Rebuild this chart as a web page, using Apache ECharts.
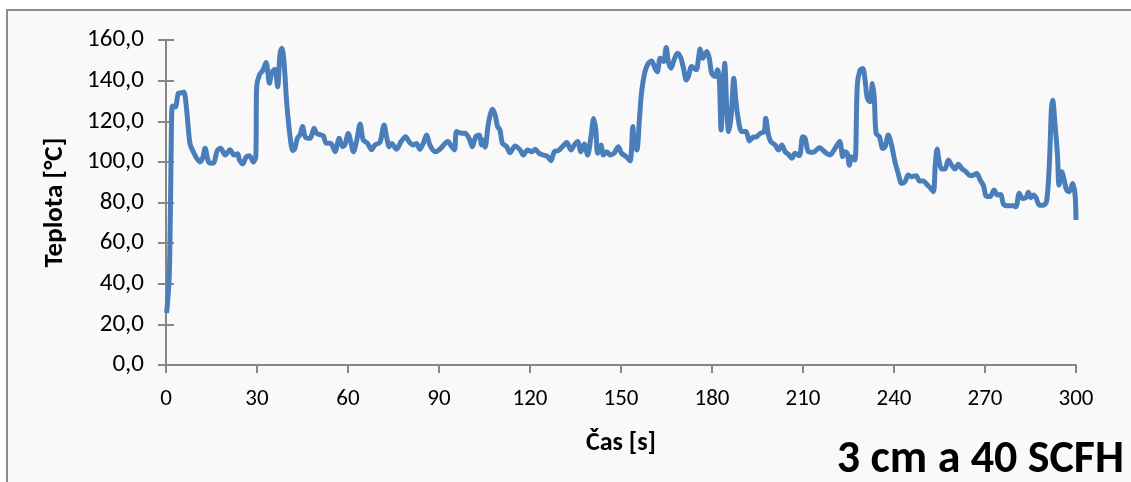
<!DOCTYPE html>
<html><head><meta charset="utf-8">
<script src="https://cdn.jsdelivr.net/npm/echarts@6/dist/echarts.min.js"></script>
<style>html,body{margin:0;padding:0;background:#fff}#c{width:1131px;height:482px}</style>
</head><body><div id="c"></div>
<script>
const casS = [0.2,1.1,1.9,2.2,3.1,4.1,5.2,5.9,6.8,7.9,9,10.1,11.2,12.1,12.9,14,15,15.9,16.9,18,19.5,21.1,22.4,23.6,24.2,25.3,26.4,27.5,28.8,29.6,29.9,30.8,31.9,33,34.1,34.8,35.9,36.8,37.6,38.2,38.9,39.8,40.9,41.8,42.5,43.3,44.2,45,46,47.5,48.8,49.7,51,51.9,52.8,54.3,55.7,57.1,58.2,59,60.1,60.9,61.8,62.9,64,65,66.4,67.8,68.9,70.5,71.9,72.7,73.6,74.4,76,77.5,79,80.1,81.5,82.6,83.7,84.8,85.9,87,88.7,90.3,91.8,92.9,94.2,95.1,95.8,97.3,98.6,99.9,101,102.1,103.2,104.1,104.7,105.2,106.3,107.6,108.5,109.3,110.1,110.9,112.3,113.4,115.1,116.7,117.8,119.2,120.6,121.7,123,124.4,125.8,126.9,128,129.3,130.7,132.1,133.5,134.6,135.7,136.8,137.9,139,140.1,141,141.7,142.3,143.4,144.2,145.3,146.4,147.7,149.1,150.2,151.7,153,153.9,154.4,155.2,156.1,156.8,157.9,159,160.1,161.2,162,162.9,164,164.9,165.6,166.5,167.5,168.6,169.7,170.6,171.5,172.2,173.3,174.8,175.5,176.1,177,178.3,179.1,179.9,181,181.8,182.4,183,183.5,184.2,184.9,185.5,186.3,187.2,187.9,188.7,189.8,191.2,192.3,193.4,194.7,196,197.2,197.7,198.6,199.4,200.8,201.9,203,204.1,205.2,206.3,207.4,208.8,209.9,210.7,211.8,213.4,215.4,217.3,218.9,220.6,222.1,223.1,223.8,224.6,225.3,226,227.1,227.9,228.8,229.7,230.4,231.2,232.1,232.9,233.5,234.1,235.2,236.3,237.1,238.1,239.2,240.3,241.4,242.5,243.6,244.7,245.8,247.3,248.4,249.7,251,252.1,253,253.6,254.2,254.9,255.7,256.8,257.9,259,260.1,261.2,262.3,263.7,265.1,266.2,267.3,268.4,269.5,270.3,271.7,273,274.1,275.2,276.1,277.7,279.3,280.2,281.3,282.4,283.5,284.3,285.1,285.9,286.8,287.9,289.2,290.3,291.2,291.9,292.3,293.1,293.9,294.4,295.3,296.1,296.9,297.8,298.9,299.7,300];
const teplota = [25.6,45,125.6,127.5,127,133.8,134,134.4,125.6,109,105,101.8,100,102,106.7,100,99.3,100,105.6,106.7,103.4,106,103.4,104,101,99,102.3,103,100,102.5,137,142.8,145,148.9,138.7,143.6,145.6,137,153.4,156,149.3,128.9,112.5,105.6,106.7,111.6,113.3,117.4,112,111.6,116.6,114,113.3,112.8,109.2,109.2,105,111.6,107.5,108.4,114,110,105,110.8,118.7,110.8,109.2,106,108.4,109.5,118.2,112.5,107.5,109.1,106.2,110,112.4,110,108.3,109.1,106.2,109.1,113.2,108.3,105,106.2,108.8,110,107.5,105.9,114.9,114.1,114.1,111.6,107.5,112.4,113.2,108.3,110.8,107.2,119,125.9,123.1,117.4,115.7,109.1,107.5,104.5,107.8,105.9,103.4,105.9,105,106.2,104.2,103.4,102.6,100.6,105,105.5,107.5,109.5,105.9,108.3,110,105,108.8,103.4,112.4,121.4,115.7,104.2,108.3,103.4,105,103.4,104.2,107.5,104.2,102.6,100.5,117.4,108.3,105.9,121.5,134.6,144.4,148.5,149.7,146.1,144.4,151,149.4,156.3,149.4,146.1,150.2,153.5,151.3,146.1,140.3,142,146.9,145.3,150.2,155.6,151,154.3,151,143.6,142,145.3,141.2,115.7,129.7,148.5,124.8,114.9,122.3,141.2,129.7,120.6,114.9,114.9,110.3,112,112.4,114.1,114.9,121.5,113.3,110,108.3,105.9,108.3,105,103.7,101.8,104.2,103.1,112.4,111.6,105,104.7,107,104.7,103.4,106.7,110,102.6,105,104.2,98.4,102.5,100.9,137.8,145.2,146,141.1,131.3,129.6,138.6,131.3,114,112.4,106.6,107.5,113.2,108.3,100.1,94.3,89.4,90.2,93.5,92.7,93.2,90.6,90.6,88.6,87,85.3,98.4,106.3,100.1,96.5,96.5,100.9,98.4,96.5,98.8,96.8,95.2,93.2,93.5,94.3,91.1,88.3,83.3,82.9,86.1,83.7,84,79.1,78.4,78.4,77.9,84.5,82,82.4,85,82.4,83.7,82.4,78.7,78.7,80.4,98.4,126.3,130.4,118.1,103.4,88.6,95.2,91.1,86.1,85.3,89.4,83.7,71.4];
const xTicks = [0,30,60,90,120,150,180,210,240,270,300];
const yTicks = [0,20,40,60,80,100,120,140,160];

const FONT = "Carlito, 'Liberation Sans Narrow', 'Open Sans', sans-serif";
const chart = echarts.init(document.getElementById('c'), null, {renderer:'canvas'});
const axisCol = '#868686';
const fmt = v => v.toFixed(1).replace('.', ',');
const yBase = {
  type:'value', min:yTicks[0], max:yTicks[yTicks.length-1], interval:yTicks[1]-yTicks[0],
  splitLine:{show:false}
};
chart.setOption({
  backgroundColor:'#ffffff',
  animation:false,
  graphic:[{type:'rect', z:-10, shape:{x:7, y:10, width:1200, height:600},
    style:{fill:'#f9f9f9', stroke:'#8c8c8c', lineWidth:2}}],
  title:{text:'3 cm a 40 SCFH', right:2, bottom:-6,
    textStyle:{fontFamily:FONT, fontSize:46, fontWeight:'bold', color:'#000'}},
  grid:{left:166, right:55, top:40, bottom:117},
  xAxis:{type:'value', min:xTicks[0], max:xTicks[xTicks.length-1], interval:xTicks[1]-xTicks[0],
    name:'Čas [s]', nameLocation:'middle', nameGap:65,
    nameTextStyle:{fontFamily:FONT, fontSize:26, fontWeight:'bold', color:'#000'},
    axisLine:{lineStyle:{color:axisCol, width:2}},
    axisTick:{length:8, lineStyle:{color:axisCol, width:2}},
    axisLabel:{fontFamily:FONT, fontSize:23, color:'#000', margin:23},
    splitLine:{show:false}},
  yAxis:[Object.assign({}, yBase, {
    name:'Teplota [°C]', nameLocation:'middle', nameGap:97, nameRotate:90,
    nameTextStyle:{fontFamily:FONT, fontSize:27, fontWeight:'bold', color:'#000'},
    axisLine:{show:true, lineStyle:{color:axisCol, width:2}},
    axisTick:{show:true, length:8, lineStyle:{color:axisCol, width:2}},
    axisLabel:{fontFamily:FONT, fontSize:25, color:'#000', margin:22, formatter:fmt}}),
    Object.assign({}, yBase, {position:'left',
    axisLine:{show:false}, axisTick:{show:true, inside:true, length:8, lineStyle:{color:axisCol, width:2}},
    axisLabel:{show:false}})],
  series:[{type:'line', data:casS.map((t,i)=>[t, teplota[i]]), showSymbol:false, symbol:'none',
    smooth:0.3, lineStyle:{color:'#4a7ebb', width:5}, z:3}]
});
</script></body></html>
